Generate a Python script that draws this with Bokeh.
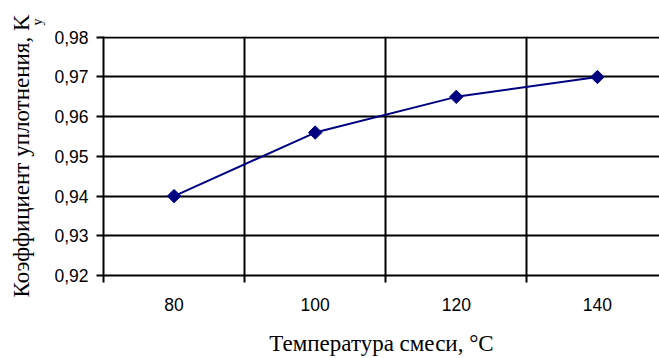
import math
from bokeh.plotting import figure
from bokeh.models import Range1d, FixedTicker, CustomJSTickFormatter, Title, ColumnDataSource
from bokeh.embed import file_html
from bokeh.resources import INLINE

categories = ["80", "100", "120", "140"]
density = [0.940, 0.956, 0.965, 0.970]
y_ticks = [0.92, 0.93, 0.94, 0.95, 0.96, 0.97, 0.98]
x_title = "Температура смеси, °C"
y_title = "Коэффициент уплотнения, K"
y_title_sub = "у"

xs = [i + 0.5 for i in range(len(categories))]
src = ColumnDataSource(dict(x=xs, y=density))

p = figure(width=659, height=358, output_backend="svg", toolbar_location=None,
           x_range=Range1d(0, 3.94), y_range=Range1d(0.92, 0.9802),
           min_border_left=103, min_border_right=0, min_border_top=36,
           min_border_bottom=82)
p.background_fill_color = "white"
p.border_fill_color = "white"
p.outline_line_color = None

p.line("x", "y", source=src, line_color="#000080", line_width=2)
p.scatter("x", "y", source=src, marker="square", angle=math.pi / 4, size=9.5,
          fill_color="#000080", line_color="#000080")

# x axis
xa = p.xaxis[0]
xa.ticker = FixedTicker(ticks=xs, minor_ticks=list(range(len(categories))))
xa.major_label_overrides = {x: c for x, c in zip(xs, categories)}
xa.major_tick_out = 0
xa.major_tick_in = 0
xa.minor_tick_out = 7
xa.minor_tick_in = 0
xa.minor_tick_line_color = "black"
xa.minor_tick_line_width = 2
xa.axis_line_color = "black"
xa.axis_line_width = 2
xa.major_label_standoff = 15
xa.major_label_text_font = "Liberation Sans"
xa.major_label_text_font_size = "17.5px"
xa.major_label_text_color = "black"
xa.axis_label = x_title
xa.axis_label_text_font = "Liberation Serif"
xa.axis_label_text_font_size = "23px"
xa.axis_label_text_font_style = "normal"
xa.axis_label_text_color = "black"
xa.axis_label_standoff = 17

# y axis
ya = p.yaxis[0]
ya.ticker = FixedTicker(ticks=y_ticks)
ya.formatter = CustomJSTickFormatter(code="return tick.toFixed(2).replace('.', ',');")
ya.major_tick_out = 7
ya.major_tick_in = 0
ya.major_tick_line_width = 2
ya.minor_tick_line_color = None
ya.axis_line_color = "black"
ya.axis_line_width = 2
ya.major_label_standoff = 8
ya.major_label_text_font = "Liberation Sans"
ya.major_label_text_font_size = "17.5px"
ya.major_label_text_color = "black"

p.xgrid.grid_line_color = None
p.xgrid.minor_grid_line_color = "black"
p.xgrid.minor_grid_line_width = 2
p.ygrid.grid_line_color = "black"
p.ygrid.grid_line_width = 2

# y title: subscript column next to the tick labels, main text outside it
p.add_layout(Title(text=y_title_sub, align="right", offset=-18, standoff=14,
                   text_font="Liberation Serif", text_font_size="14px",
                   text_font_style="normal", text_color="black"), "left")
p.add_layout(Title(text=y_title, align="center", offset=-5, standoff=-26,
                   text_font="Liberation Serif", text_font_size="23px",
                   text_font_style="normal", text_color="black"), "left")

open("out.html", "w").write(file_html(p, INLINE))
